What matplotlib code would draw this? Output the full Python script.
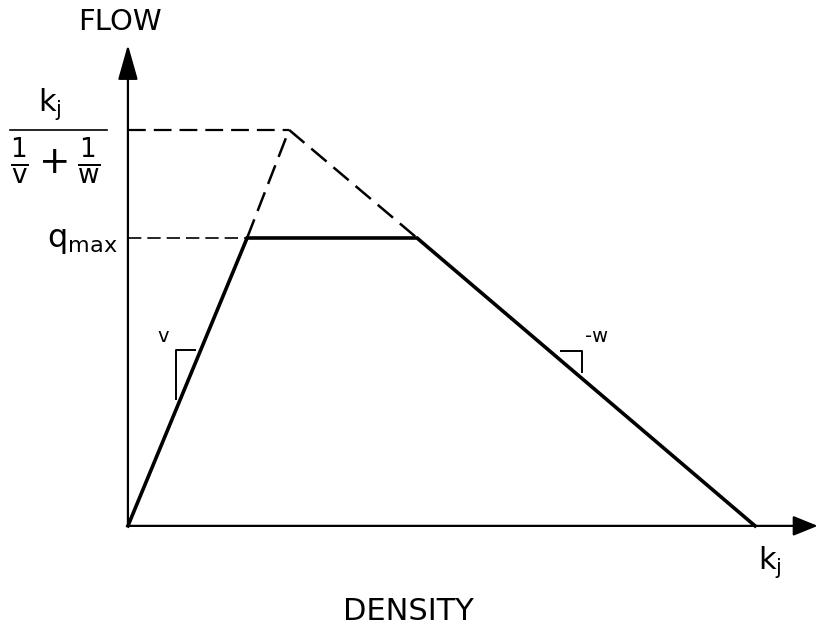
import matplotlib.pyplot as plt

plt.rcParams['mathtext.default'] = 'regular'
plt.rcParams['font.family'] = ['DejaVu Sans']

# flow-density relation (density in units of k_j, flow in units of k_j/(1/v+1/w))
density = [0.0, 0.190, 0.461, 1.0]
flow = [0.0, 0.727, 0.727, 0.0]

# triangular diagram that the capacity cap cuts off
peak_density = 0.257
peak_flow = 1.0
tri_density = [density[1], peak_density, density[2]]
tri_flow = [flow[1], peak_flow, flow[2]]

q_max = flow[1]


def slope_mark(ax, xs, ys):
    ax.plot(xs, ys, color='black', lw=1.4, solid_capstyle='butt')


fig = plt.figure(figsize=(8.19, 6.32), dpi=100)
ax = fig.add_axes([0, 0, 1, 1])
ax.set_xlim(-0.204, 1.102)
ax.set_ylim(-0.268, 1.328)
ax.axis('off')

# axes with arrows
ax.annotate('', xy=(0, 1.215), xytext=(0, 0),
            arrowprops=dict(arrowstyle='-|>,head_length=0.6,head_width=0.17',
                            mutation_scale=36, lw=1.6, color='black',
                            shrinkA=0, shrinkB=0))
ax.annotate('', xy=(1.1, 0), xytext=(0, 0),
            arrowprops=dict(arrowstyle='-|>,head_length=0.42,head_width=0.17',
                            mutation_scale=36, lw=1.6, color='black',
                            shrinkA=0, shrinkB=0))

# dashed triangle and guide lines
dash = (0, (8, 3.6))
ax.plot(tri_density, tri_flow, color='black', lw=1.8, linestyle=dash)
ax.plot([0, peak_density], [peak_flow, peak_flow], color='black', lw=1.6, linestyle=dash)
ax.plot([0, density[1]], [q_max, q_max], color='black', lw=1.2, linestyle=dash)

# the trapezoid
ax.plot(density, flow, color='black', lw=2.6, solid_joinstyle='miter')

# slope marks
slope_mark(ax, [0.0766, 0.0766, 0.108], [0.318, 0.444, 0.444])
slope_mark(ax, [0.689, 0.724, 0.724], [0.442, 0.442, 0.386])
ax.text(0.056, 0.477, 'v', fontsize=14, ha='center', va='center')
ax.text(0.748, 0.477, '-w', fontsize=14, ha='center', va='center')

# labels
ax.text(-0.013, 1.273, 'FLOW', fontsize=21, ha='center', va='center')
ax.text(0.448, -0.215, 'DENSITY', fontsize=22, ha='center', va='center')
ax.text(1.005, -0.045, '$k_j$', fontsize=22, ha='left', va='top')
ax.text(-0.016, 0.72, '$q_{max}$', fontsize=23, ha='right', va='center')

# capacity of the triangle: k_j / (1/v + 1/w)
ax.plot([-0.188, -0.034], [peak_flow, peak_flow], color='black', lw=1.2)
ax.text(-0.124, 1.02, '$k_j$', fontsize=22, ha='center', va='bottom')
ax.text(-0.115, 0.92, r'$\frac{1}{v}+\frac{1}{w}$', fontsize=27, ha='center', va='center')

fig.savefig('out.png', dpi=100)
